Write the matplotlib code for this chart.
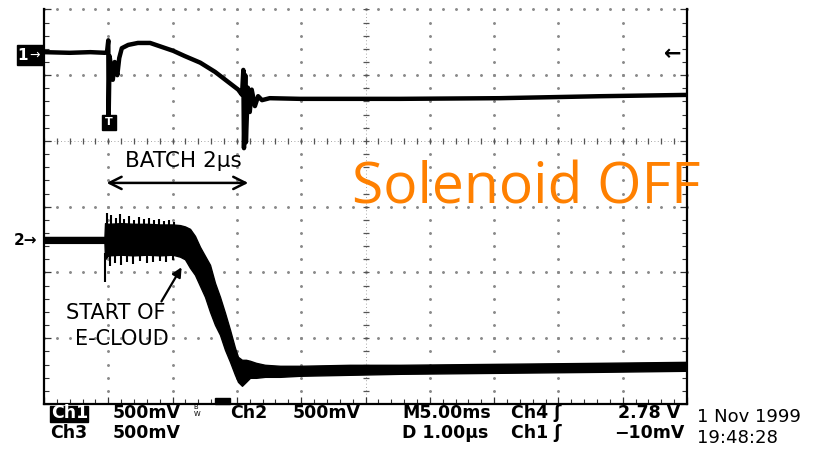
import matplotlib
matplotlib.use("Agg")
import matplotlib.pyplot as plt
import numpy as np
from matplotlib.patches import Rectangle

# ---------------- data (time in µs = screen divisions, amplitude in screen divisions) -------------
# Channel 1 (beam pickup)
ch1_t = [0.00, 0.40, 0.72, 0.95, 0.98, 1.00, 1.005, 1.02, 1.04, 1.07, 1.10, 1.14, 1.17, 1.21,
         1.31, 1.46, 1.65, 1.80, 2.01, 2.19, 2.43, 2.66, 2.86, 3.02, 3.08, 3.10, 3.11, 3.13,
         3.14, 3.17, 3.20, 3.23, 3.28, 3.33, 3.39, 3.51, 3.98, 5.54, 7.09, 8.65, 10.0]
ch1_v = [1.35, 1.34, 1.35, 1.34, 1.35, 1.53, 0.35, 1.29, 1.14, 0.93, 1.20, 1.00, 1.26, 1.41,
         1.46, 1.49, 1.49, 1.44, 1.37, 1.29, 1.19, 1.05, 0.90, 0.78, 0.70, 1.08, -0.11, 1.00,
         -0.02, 0.81, 0.44, 0.78, 0.53, 0.68, 0.62, 0.65, 0.64, 0.64, 0.65, 0.68, 0.70]

# Channel 2 (electron detector) — upper / lower envelope of the noisy trace
ch2_t = [0.000, 0.871, 0.940, 0.949, 1.000, 1.200, 1.400, 1.600, 1.800, 2.000, 2.115, 2.193,
         2.271, 2.348, 2.426, 2.504, 2.582, 2.659, 2.737, 2.815, 2.893, 2.970, 3.017, 3.079,
         3.142, 3.204, 3.297, 3.437, 3.670, 3.981, 4.759, 5.537, 7.092, 8.647, 10.000]
ch2_hi = [-1.46, -1.46, -1.46, -1.25, -1.26, -1.25, -1.26, -1.26, -1.27, -1.27, -1.28, -1.30,
          -1.337, -1.444, -1.611, -1.748, -1.884, -2.158, -2.371, -2.614, -2.872, -3.146, -3.283,
          -3.328, -3.328, -3.343, -3.374, -3.404, -3.419, -3.419, -3.404, -3.404, -3.389, -3.374,
          -3.359]
ch2_lo = [-1.55, -1.55, -1.55, -1.80, -1.74, -1.73, -1.74, -1.73, -1.74, -1.73, -1.76, -1.80,
          -1.930, -2.036, -2.204, -2.371, -2.599, -2.796, -2.948, -3.176, -3.359, -3.556, -3.663,
          -3.723, -3.663, -3.602, -3.602, -3.587, -3.587, -3.571, -3.556, -3.541, -3.526, -3.511,
          -3.495]
# individual noise spikes on the Ch2 plateau
spk_up_t = [0.98, 1.04, 1.12, 1.18, 1.24, 1.32, 1.40, 1.48, 1.56, 1.63, 1.71, 1.79, 1.87, 1.94, 2.02]
spk_up_v = [-1.094, -1.125, -1.170, -1.109, -1.185, -1.140, -1.201, -1.155, -1.185, -1.170,
            -1.201, -1.185, -1.216, -1.201, -1.231]
spk_dn_t = [0.95, 1.03, 1.10, 1.20, 1.29, 1.38, 1.49, 1.60, 1.70, 1.80, 1.90, 2.01]
spk_dn_v = [-2.143, -1.900, -1.854, -1.884, -1.839, -1.869, -1.824, -1.854, -1.839, -1.824,
            -1.839, -1.809]

row1_labels = ["500mV", "Ch2", "500mV", "M5.00ms", "Ch4 \u0283", "2.78 V"]
row2_labels = ["Ch3", "500mV", "D 1.00\u00b5s", "Ch1 \u0283", "\u221210mV"]
date_label = "1 Nov 1999"
time_label = "19:48:28"
title_label = "Solenoid OFF"

# ---------------- figure ----------------
W, H = 829, 453
fig = plt.figure(figsize=(W / 100, H / 100), dpi=100)
fig.patch.set_facecolor("white")

def fx(px):
    return px / W

def fy(py):
    return 1 - py / H

L, R, T, B = 44, 687, 9.4, 404
ax = fig.add_axes([fx(L), fy(B), (R - L) / W, (B - T) / H])
ax.set_xlim(0, 10)
ax.set_ylim(-4, 2)
ax.set_facecolor("white")
for s in ["left", "right", "bottom"]:
    ax.spines[s].set_linewidth(1.6)
    ax.spines[s].set_color("black")
ax.spines["top"].set_visible(False)
ax.set_xticks(np.arange(0, 10.01, 1))
ax.set_xticks(np.arange(0, 10.01, 0.2), minor=True)
ax.set_yticks(np.arange(-4, 2.01, 1))
ax.set_yticks(np.arange(-4, 2.01, 0.2), minor=True)
ax.tick_params(which="both", direction="in", labelbottom=False, labelleft=False,
               right=True, top=False, color="#333")
ax.tick_params(which="major", length=5, width=0.9)
ax.tick_params(which="minor", length=3.5, width=0.8)

# graticule dots
gcol = "#8a8a8a"
minor_y = np.arange(-4, 2.001, 0.2)
minor_x = np.arange(0, 10.001, 0.2)
for gx in range(1, 10):
    if gx == 5:
        continue
    ax.plot(np.full_like(minor_y, gx), minor_y, ls="none", marker="o", ms=1.1, color=gcol, zorder=1)
for gy in [-3, -2, -1, 1, 2]:
    ax.plot(minor_x, np.full_like(minor_x, gy), ls="none", marker="o", ms=1.1, color=gcol, zorder=1,
            clip_on=False)
# centre cross with tick marks
ax.plot([5, 5], [-4, 2], ls=(0, (1, 3)), lw=0.6, color="#888", zorder=1)
ax.plot([0, 10], [0, 0], ls=(0, (1, 3)), lw=0.6, color="#888", zorder=1)
ax.plot(np.full_like(minor_y, 5), minor_y, ls="none", marker="_", ms=4.5, mew=0.9, color="#555", zorder=1)
ax.plot(minor_x, np.zeros_like(minor_x), ls="none", marker="|", ms=4.5, mew=0.9, color="#555", zorder=1)

# traces
ax.plot(ch1_t, ch1_v, color="black", lw=3.2, solid_joinstyle="round", zorder=3)
ax.fill_between(ch2_t, ch2_lo, ch2_hi, color="black", lw=1.0, edgecolor="black", zorder=3)
ax.vlines(spk_up_t, -1.30, spk_up_v, color="black", lw=1.5, zorder=3)
ax.vlines(spk_dn_t, -1.70, spk_dn_v, color="black", lw=1.5, zorder=3)

# trigger marker "T"
ax.add_patch(Rectangle((0.90, 0.17), 0.22, 0.23, color="black", zorder=4))
ax.text(1.01, 0.285, "T", color="white", fontsize=8, fontweight="bold", ha="center", va="center", zorder=5)
# trigger position block on bottom edge
ax.add_patch(Rectangle((2.66, -4.0), 0.23, 0.09, color="black", zorder=4, clip_on=False))

# handwritten annotations
hand = dict(family="DejaVu Sans", color="black")
fig.text(fx(183), fy(161), "BATCH 2\u00b5s", ha="center", va="center", fontsize=15.5, **hand)
ax.annotate("", xy=(0.93, (141 - 183) / 65.8), xytext=(3.22, (141 - 183) / 65.8),
            arrowprops=dict(arrowstyle="<->", lw=1.8, color="black", mutation_scale=22))
fig.text(fx(116), fy(313), "START OF", ha="center", va="center", fontsize=15, **hand)
fig.text(fx(122), fy(339), "E-CLOUD", ha="center", va="center", fontsize=15, **hand)
ax.annotate("", xy=((183 - 44) / 64.3, (141 - 265) / 65.8), xytext=((160 - 44) / 64.3, (141 - 304) / 65.8),
            arrowprops=dict(arrowstyle="-|>", lw=1.6, color="black", mutation_scale=14))

# big orange label
fig.text(fx(352), fy(189), title_label, color="#FF8000", fontsize=41, family="Open Sans",
         ha="left", va="center", zorder=10)

# channel markers on the left
fig.add_artist(Rectangle((fx(17), fy(65)), 26 / W, 20 / H, transform=fig.transFigure, color="black"))
fig.text(fx(23), fy(55), "1", color="white", fontsize=11, fontweight="bold", ha="center", va="center")
fig.text(fx(35), fy(55), "\u2192", color="white", fontsize=9, ha="center", va="center")
fig.text(fx(26), fy(240), "2\u2192", color="black", fontsize=11, fontweight="bold", ha="center", va="center")
# trigger level arrow on the right
fig.text(fx(673), fy(54), "\u2190", color="black", fontsize=15, fontweight="bold", ha="center", va="center")

# readout text under the screen
rfont = dict(family="DejaVu Sans", fontsize=12.5, fontweight="bold", color="black", va="center", ha="left")
fig.add_artist(Rectangle((fx(50), fy(422)), 38 / W, 16 / H, transform=fig.transFigure, color="black"))
fig.text(fx(51), fy(413.5), "Ch1", **{**rfont, "color": "white"})
row1_x = [113, 230, 293, 402, 511, 618]
for x, lab in zip(row1_x, row1_labels):
    fig.text(fx(x), fy(413.5), lab, **rfont)
fig.text(fx(193), fy(411), r"$^{\mathrm{B}}_{\mathrm{W}}$", fontsize=7, color="black", ha="left", va="center")
row2_x = [50, 113, 402, 511, 614]
for x, lab in zip(row2_x, row2_labels):
    fig.text(fx(x), fy(432.5), lab, **rfont)
fig.text(fx(697), fy(417), date_label, **{**rfont, "fontsize": 13, "fontweight": "normal"})
fig.text(fx(697), fy(438), time_label, **{**rfont, "fontsize": 13, "fontweight": "normal"})

fig.savefig("out.png", dpi=100, facecolor="white")
